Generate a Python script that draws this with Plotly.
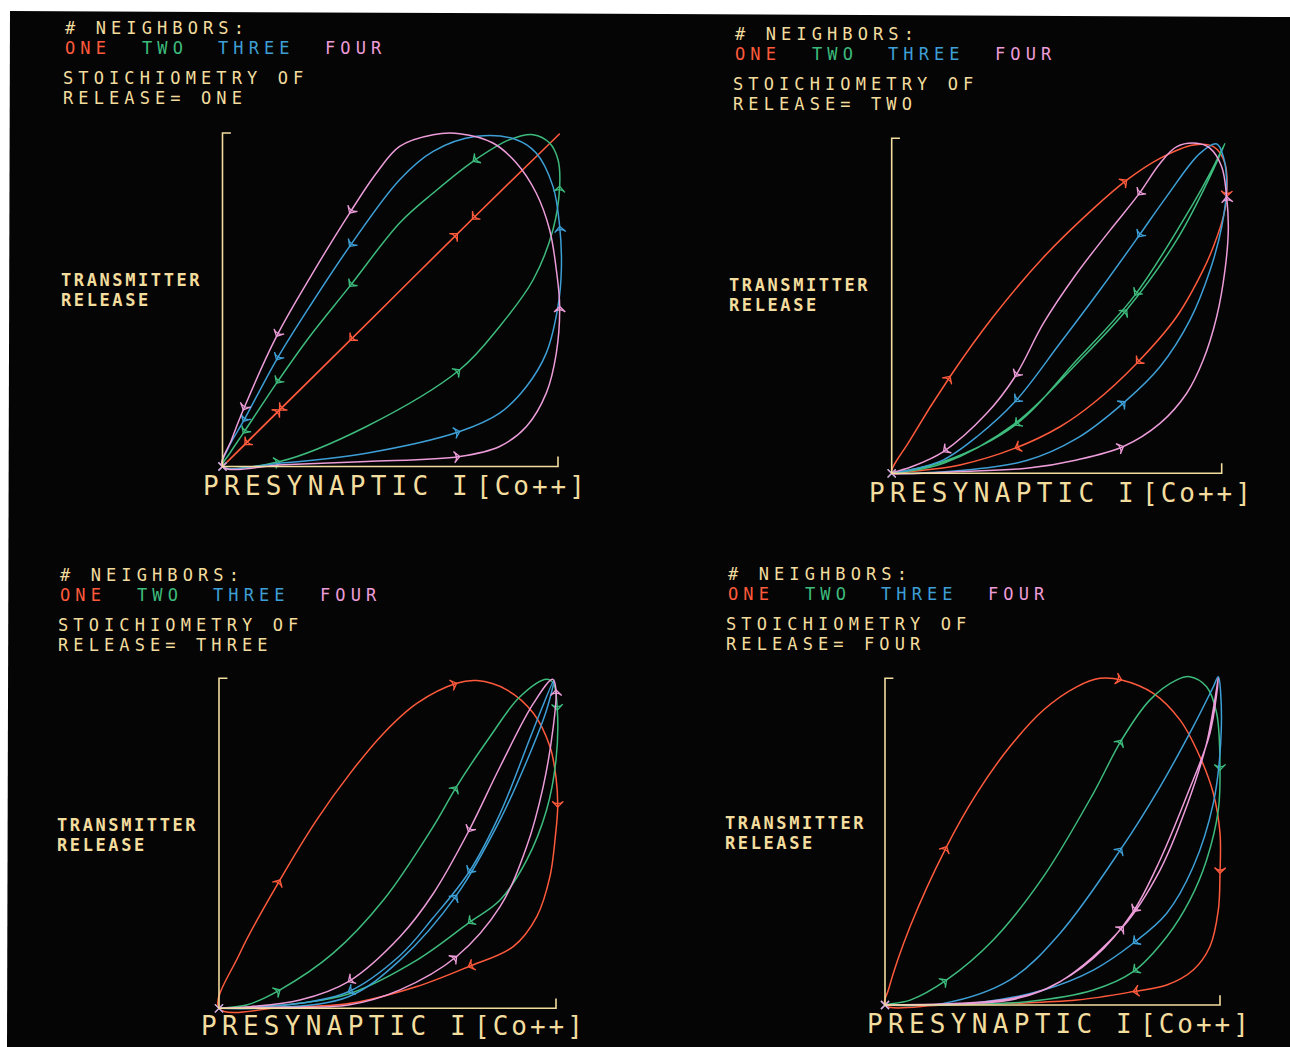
import math
import plotly.graph_objects as go

W, H = 1290, 1047

# Loop colours by number of neighbours, plus the cream used for text and axes
COLORS = {"ONE": "#ff5a3c", "TWO": "#3dbb7d", "THREE": "#3d9fd6", "FOUR": "#ec9cd8"}
CREAM = "#f3dd9e"
NEIGHBOR_NAMES = ["ONE", "TWO", "THREE", "FOUR"]
STOICHIOMETRY = ["ONE", "TWO", "THREE", "FOUR"]

# ---------------------------------------------------------------------------
# Transmitter release (y) versus presynaptic I[Co++] (x), both normalised 0..1.
# Each list traces one closed loop; *_ARR are the points that carry an arrowhead.
# ---------------------------------------------------------------------------

# Stoichiometry of release = ONE
S1_ONE_X = [0, 0.17, 0.45, 0.70, 1.005, 0.745, 0.38, 0.17, 0.067, 0]
S1_ONE_Y = [0, 0.17, 0.448, 0.698, 0.998, 0.742, 0.378, 0.169, 0.066, 0]
S1_ONE_ARR = [1, 3, 5, 6, 7, 8]

S1_TWO_X = [0, 0.171, 0.429, 0.707, 0.826, 0.926, 0.985, 1.005, 1.0, 0.975, 0.926,
            0.856, 0.747, 0.628, 0.528, 0.379, 0.26, 0.161, 0.062, 0.022, 0]
S1_TWO_Y = [0, 0.015, 0.12, 0.29, 0.42, 0.56, 0.71, 0.84, 0.92, 0.97, 0.995,
            0.98, 0.915, 0.82, 0.73, 0.54, 0.39, 0.25, 0.10, 0.04, 0]
S1_TWO_ARR = [1, 3, 7, 12, 15, 17, 18]

S1_THREE_X = [0, 0.171, 0.429, 0.707, 0.826, 0.906, 0.965, 1.0, 1.01, 1.005, 0.985,
              0.935, 0.876, 0.757, 0.628, 0.528, 0.379, 0.26, 0.161, 0.062, 0.017, 0]
S1_THREE_Y = [0, 0.01, 0.04, 0.105, 0.16, 0.24, 0.34, 0.48, 0.59, 0.72, 0.84,
              0.94, 0.98, 0.99, 0.945, 0.86, 0.66, 0.48, 0.32, 0.135, 0.055, 0]
S1_THREE_ARR = [3, 9, 16, 18, 19]

S1_FOUR_X = [0, 0.181, 0.429, 0.707, 0.826, 0.906, 0.965, 0.995, 1.005, 0.995, 0.975,
             0.935, 0.876, 0.806, 0.707, 0.628, 0.528, 0.459, 0.379, 0.26, 0.161,
             0.062, 0.027, 0]
S1_FOUR_Y = [0, 0.005, 0.015, 0.03, 0.06, 0.12, 0.22, 0.34, 0.48, 0.59, 0.71,
             0.82, 0.91, 0.97, 0.998, 0.995, 0.96, 0.88, 0.76, 0.565, 0.39,
             0.17, 0.08, 0]
S1_FOUR_ARR = [3, 8, 18, 20, 21]

# Stoichiometry of release = TWO
S2_ONE_X = [0, 0.056, 0.177, 0.308, 0.46, 0.611, 0.712, 0.813, 0.914, 0.975, 1.01,
            1.015, 1.005, 0.975, 0.944, 0.864, 0.742, 0.611, 0.51, 0.374, 0.207,
            0.056, 0]
S2_ONE_Y = [0, 0.10, 0.289, 0.468, 0.645, 0.79, 0.875, 0.94, 0.98, 0.975, 0.925,
            0.826, 0.766, 0.677, 0.607, 0.468, 0.328, 0.209, 0.139, 0.075, 0.025,
            0.005, 0]
S2_ONE_ARR = [2, 6, 11, 16, 19]

S2_TWO_X = [0, 0.157, 0.374, 0.561, 0.712, 0.864, 0.955, 1.01,
            0.965, 0.914, 0.737, 0.561, 0.374, 0.157, 0]
S2_TWO_Y = [0, 0.03, 0.149, 0.328, 0.488, 0.697, 0.866, 0.985,
            0.896, 0.806, 0.532, 0.338, 0.144, 0.035, 0]
S2_TWO_ARR = [4, 10, 12]

S2_THREE_X = [0, 0.207, 0.409, 0.561, 0.707, 0.813, 0.904, 0.965, 1.0, 1.015, 1.005,
              0.985, 0.934, 0.833, 0.747, 0.631, 0.51, 0.374, 0.258, 0.157, 0.056, 0]
S2_THREE_Y = [0, 0.008, 0.038, 0.104, 0.214, 0.318, 0.458, 0.607, 0.736, 0.856, 0.945,
              0.983, 0.955, 0.826, 0.706, 0.547, 0.388, 0.214, 0.109, 0.04, 0.01, 0]
S2_THREE_ARR = [4, 14, 17]

S2_FOUR_X = [0, 0.207, 0.409, 0.561, 0.702, 0.813, 0.894, 0.944, 0.985, 1.01, 1.02,
             1.015, 1.0, 0.965, 0.924, 0.864, 0.813, 0.747, 0.662, 0.561, 0.46,
             0.374, 0.288, 0.157, 0.056, 0]
S2_FOUR_Y = [0, 0.005, 0.015, 0.04, 0.08, 0.149, 0.239, 0.338, 0.468, 0.607, 0.726,
             0.826, 0.915, 0.97, 0.985, 0.975, 0.925, 0.831, 0.726, 0.597, 0.448,
             0.289, 0.179, 0.065, 0.018, 0]
S2_FOUR_ARR = [4, 11, 17, 21, 23]

# Stoichiometry of release = THREE
S3_ONE_X = [0, 0.062, 0.181, 0.29, 0.389, 0.488, 0.587, 0.705, 0.765, 0.854, 0.933,
            0.982, 1.0, 1.005, 0.998, 0.982, 0.943, 0.873, 0.74, 0.587, 0.389,
            0.191, 0]
S3_ONE_Y = [0, 0.167, 0.389, 0.571, 0.712, 0.833, 0.924, 0.985, 0.993, 0.965, 0.894,
            0.793, 0.70, 0.61, 0.52, 0.399, 0.278, 0.187, 0.126, 0.066, 0.015,
            0.003, 0]
S3_ONE_ARR = [2, 7, 13, 18]

S3_TWO_X = [0, 0.082, 0.181, 0.339, 0.488, 0.636, 0.705, 0.804, 0.893, 0.972, 0.992,
            1.004, 1.0, 0.972, 0.913, 0.834, 0.74, 0.587, 0.389, 0.24, 0.092, 0]
S3_TWO_Y = [0, 0.01, 0.056, 0.167, 0.328, 0.551, 0.672, 0.823, 0.944, 0.997, 0.985,
            0.904, 0.753, 0.601, 0.449, 0.328, 0.258, 0.146, 0.045, 0.015, 0.003, 0]
S3_TWO_ARR = [2, 6, 11, 16]

S3_THREE_X = [0, 0.171, 0.384, 0.537, 0.705, 0.834, 0.923, 0.972, 0.994,
              0.933, 0.834, 0.74, 0.636, 0.537, 0.384, 0.24, 0.092, 0]
S3_THREE_Y = [0, 0.002, 0.035, 0.146, 0.343, 0.571, 0.773, 0.904, 0.995,
              0.845, 0.59, 0.41, 0.275, 0.16, 0.05, 0.015, 0.003, 0]
S3_THREE_ARR = [4, 11, 14]

S3_FOUR_X = [0, 0.171, 0.384, 0.537, 0.705, 0.834, 0.913, 0.962, 0.992, 1.0, 0.99,
             0.933, 0.834, 0.74, 0.636, 0.537, 0.384, 0.24, 0.092, 0]
S3_FOUR_Y = [0, 0.003, 0.01, 0.056, 0.157, 0.308, 0.49, 0.672, 0.854, 0.965, 0.997,
             0.924, 0.732, 0.535, 0.348, 0.217, 0.081, 0.025, 0.005, 0]
S3_FOUR_ARR = [4, 9, 13, 16]

# Stoichiometry of release = FOUR
S4_ONE_X = [0, 0.01, 0.075, 0.184, 0.274, 0.373, 0.473, 0.572, 0.642, 0.706, 0.801,
            0.881, 0.94, 0.98, 1.0, 1.0, 0.995, 0.97, 0.92, 0.841, 0.741, 0.572,
            0.373, 0.174, 0]
S4_ONE_Y = [0, 0.046, 0.24, 0.485, 0.648, 0.791, 0.903, 0.974, 1.0, 0.995, 0.954,
            0.872, 0.76, 0.648, 0.526, 0.403, 0.291, 0.179, 0.107, 0.061, 0.041, 0.015,
            0.005, 0.0, 0]
S4_ONE_ARR = [3, 9, 15, 20]

S4_TWO_X = [0, 0.075, 0.184, 0.323, 0.473, 0.622, 0.706, 0.791, 0.871, 0.91, 0.96,
            0.99, 1.0, 0.995, 0.96, 0.91, 0.841, 0.741, 0.622, 0.423, 0.224, 0]
S4_TWO_Y = [0, 0.015, 0.077, 0.199, 0.393, 0.648, 0.811, 0.934, 0.995, 1.005, 0.974,
            0.893, 0.719, 0.597, 0.444, 0.321, 0.209, 0.102, 0.046, 0.01, 0.002, 0]
S4_TWO_ARR = [2, 6, 12, 17]

S4_THREE_X = [0, 0.174, 0.373, 0.522, 0.706, 0.821, 0.92, 0.98, 0.995, 1.002, 1.002,
              0.98, 0.92, 0.841, 0.741, 0.622, 0.473, 0.274, 0.075, 0]
S4_THREE_Y = [0, 0.005, 0.077, 0.219, 0.48, 0.668, 0.852, 0.974, 1.005, 0.954, 0.801,
              0.617, 0.423, 0.281, 0.189, 0.107, 0.046, 0.007, 0.0, 0]
S4_THREE_ARR = [4, 14]

S4_FOUR_X = [0, 0.174, 0.383, 0.522, 0.711, 0.821, 0.9, 0.96, 0.995,
             0.97, 0.9, 0.821, 0.741, 0.622, 0.483, 0.383, 0.224, 0]
S4_FOUR_Y = [0, 0.003, 0.017, 0.071, 0.24, 0.413, 0.607, 0.801, 1.0,
             0.832, 0.638, 0.444, 0.286, 0.143, 0.051, 0.021, 0.005, 0]
S4_FOUR_ARR = [4, 12]

PANEL_LOOPS = [
    [(S1_ONE_X, S1_ONE_Y, S1_ONE_ARR), (S1_TWO_X, S1_TWO_Y, S1_TWO_ARR),
     (S1_THREE_X, S1_THREE_Y, S1_THREE_ARR), (S1_FOUR_X, S1_FOUR_Y, S1_FOUR_ARR)],
    [(S2_ONE_X, S2_ONE_Y, S2_ONE_ARR), (S2_TWO_X, S2_TWO_Y, S2_TWO_ARR),
     (S2_THREE_X, S2_THREE_Y, S2_THREE_ARR), (S2_FOUR_X, S2_FOUR_Y, S2_FOUR_ARR)],
    [(S3_ONE_X, S3_ONE_Y, S3_ONE_ARR), (S3_TWO_X, S3_TWO_Y, S3_TWO_ARR),
     (S3_THREE_X, S3_THREE_Y, S3_THREE_ARR), (S3_FOUR_X, S3_FOUR_Y, S3_FOUR_ARR)],
    [(S4_ONE_X, S4_ONE_Y, S4_ONE_ARR), (S4_TWO_X, S4_TWO_Y, S4_TWO_ARR),
     (S4_THREE_X, S4_THREE_Y, S4_THREE_ARR), (S4_FOUR_X, S4_FOUR_Y, S4_FOUR_ARR)],
]

# ---------------------------------------------------------------------------
# Page layout (pixels): axis origin / unit points of each panel and text anchors
# ---------------------------------------------------------------------------
PANELS = [
    dict(x0=222.5, x1=558.0, y0=466.5, y1=133.0, head=(64, 28), ylab=(60, 280), xlab=(202, 486)),
    dict(x0=891.7, x1=1221.7, y0=473.3, y1=138.3, head=(734, 34), ylab=(728, 285), xlab=(868, 493)),
    dict(x0=219.0, x1=556.0, y0=1008.3, y1=678.3, head=(59, 575), ylab=(56, 825), xlab=(200, 1026)),
    dict(x0=885.0, x1=1220.0, y0=1005.0, y1=678.3, head=(727, 574), ylab=(724, 823), xlab=(866, 1024)),
]
XR = (-0.02, 1.04)
YR = (-0.02, 1.03)
COLOR_WORD_DX = [0, 77, 153, 260]

MONO = "DejaVu Sans Mono"
HEAD_SIZE, HEAD_LS = 17, 5.1        # plotter lettering: short caps, wide pitch
YLAB_SIZE, YLAB_LS = 17, 2.6
XLAB_SIZE, XLAB_LS = 26, 5.3


def px(x):
    return x / W


def py(y):
    return 1 - y / H


fig = go.Figure()
annotations = []
shapes = []

# black page on the white mount (slightly skewed edges)
shapes.append(dict(type="path", xref="paper", yref="paper", layer="below",
                   path=f"M {px(10)},{py(11)} L {px(1290)},{py(17)} L {px(1290)},{py(1047)} "
                        f"L {px(7)},{py(1047)} Z",
                   fillcolor="#050505", line=dict(width=0)))


def text(x, y, s, color=CREAM, size=HEAD_SIZE, spacing=HEAD_LS, bold=False):
    annotations.append(dict(x=px(x), y=py(y), xref="paper", yref="paper",
                            text=f'<span style="letter-spacing:{spacing}px">{s}</span>',
                            showarrow=False, xanchor="left", yanchor="middle", borderpad=0,
                            font=dict(family=MONO, size=size, color=color,
                                      weight=700 if bold else 400)))


for k, (spec, loops) in enumerate(zip(PANELS, PANEL_LOOPS)):
    n = k + 1
    xa = "x" if n == 1 else f"x{n}"
    ya = "y" if n == 1 else f"y{n}"
    sx = spec["x1"] - spec["x0"]
    sy = spec["y0"] - spec["y1"]
    dom_x = [px(spec["x0"] + XR[0] * sx), px(spec["x0"] + XR[1] * sx)]
    dom_y = [py(spec["y0"] - YR[0] * sy), py(spec["y0"] - YR[1] * sy)]
    axis_common = dict(showgrid=False, zeroline=False, showticklabels=False,
                       showline=False, ticks="", fixedrange=True)
    fig.update_layout(**{
        ("xaxis" if n == 1 else f"xaxis{n}"): dict(domain=dom_x, range=list(XR),
                                                   anchor=ya, **axis_common),
        ("yaxis" if n == 1 else f"yaxis{n}"): dict(domain=dom_y, range=list(YR),
                                                   anchor=xa, **axis_common),
    })

    # bracket-style axes
    shapes.append(dict(type="path", xref=xa, yref=ya,
                       path="M 0.025,1 L 0,1 L 0,0 L 1,0 L 1,0.03",
                       line=dict(color=CREAM, width=1.6)))

    for name, (xs, ys, arr) in zip(NEIGHBOR_NAMES, loops):
        col = COLORS[name]
        fig.add_trace(go.Scatter(x=xs, y=ys, xaxis=xa, yaxis=ya, mode="lines",
                                 line=dict(color=col, width=1.5, shape="spline",
                                           smoothing=1.0),
                                 hoverinfo="skip", showlegend=False))
        ax, ay, ang = [], [], []
        for i in arr:
            i0, i1 = max(i - 1, 0), min(i + 1, len(xs) - 1)
            dx = (xs[i1] - xs[i0]) * sx
            dy = (ys[i1] - ys[i0]) * sy
            ax.append(xs[i])
            ay.append(ys[i])
            ang.append(math.degrees(math.atan2(dx, dy)))
        fig.add_trace(go.Scatter(x=ax, y=ay, xaxis=xa, yaxis=ya, mode="markers",
                                 marker=dict(symbol="arrow-wide-open", size=8, angle=ang,
                                             color=col, line=dict(color=col, width=1.3)),
                                 hoverinfo="skip", showlegend=False, cliponaxis=False))
        fig.add_trace(go.Scatter(x=[xs[0]], y=[ys[0]], xaxis=xa, yaxis=ya, mode="markers",
                                 marker=dict(symbol="x-thin-open", size=8, color=col,
                                             line=dict(color=col, width=1.2)),
                                 hoverinfo="skip", showlegend=False, cliponaxis=False))

    # header block
    hx, hy = spec["head"]
    text(hx, hy, "# NEIGHBORS:")
    for dx, name in zip(COLOR_WORD_DX, NEIGHBOR_NAMES):
        text(hx + dx, hy + 20, name, color=COLORS[name])
    text(hx - 2, hy + 50, "STOICHIOMETRY OF")
    text(hx - 2, hy + 70, "RELEASE= " + STOICHIOMETRY[k])

    # axis titles
    lx, ly = spec["ylab"]
    text(lx, ly, "TRANSMITTER", size=YLAB_SIZE, spacing=YLAB_LS, bold=True)
    text(lx, ly + 20, "RELEASE", size=YLAB_SIZE, spacing=YLAB_LS, bold=True)
    bx, by = spec["xlab"]
    text(bx, by, "PRESYNAPTIC", size=XLAB_SIZE, spacing=XLAB_LS)
    text(bx + 249, by, "I", size=XLAB_SIZE, spacing=XLAB_LS)
    text(bx + 273, by, "[Co++]", size=XLAB_SIZE, spacing=3.0)

fig.update_layout(width=W, height=H, margin=dict(l=0, r=0, t=0, b=0),
                  paper_bgcolor="white", plot_bgcolor="rgba(0,0,0,0)",
                  annotations=annotations, shapes=shapes, showlegend=False)

fig.write_html("out.html")
